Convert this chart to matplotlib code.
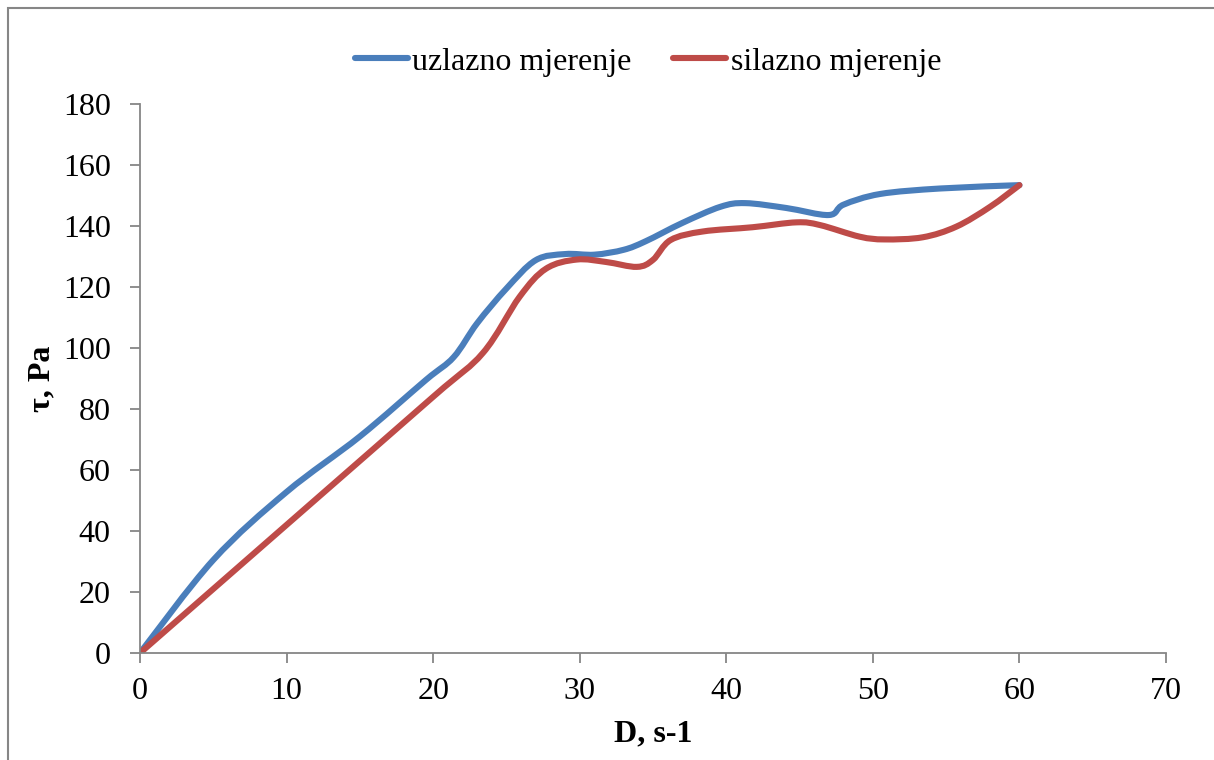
import numpy as np
import matplotlib.pyplot as plt
from matplotlib.path import Path
from matplotlib.patches import PathPatch, Rectangle
from matplotlib.lines import Line2D

plt.rcParams['font.family'] = ['Liberation Serif', 'DejaVu Serif']

# values
x_up = [0, 5, 10, 15, 19.5, 21.4, 23.0, 25.0, 27.0, 29.0, 31.0, 33.0, 34.5,
        37.0, 39.6, 41.3, 44.1, 47.0, 48.0, 50.5, 54.6, 60.0]
y_up = [0, 30.5, 52.8, 71.0, 89.5, 97.0, 108.1, 119.5, 128.8, 130.8, 130.6, 132.2, 135.0,
        141.0, 146.3, 147.5, 145.9, 143.6, 147.0, 150.5, 152.3, 153.4]

x_down = [0, 10, 20, 23.4, 25.9, 27.7, 29.8, 31.8, 33.9, 35.0, 36.2, 38.4, 41.8,
          44.8, 46.4, 49.1, 50.8, 53.4, 55.7, 58.0, 60.0]
y_down = [0, 42, 84, 98.4, 116.8, 126.0, 129.0, 128.2, 126.6, 128.9, 135.4, 138.2, 139.6,
          141.2, 140.3, 136.5, 135.6, 136.3, 139.8, 146.3, 153.4]

labels = ['uzlazno mjerenje', 'silazno mjerenje']
colors = ['#4A7EBB', '#BE4B48']


def smooth_path(xs, ys):
    # Excel-like smoothed line: cubic Bezier segments through the points
    p = np.column_stack([xs, ys]).astype(float)
    n = len(p)
    verts = [p[0]]
    codes = [Path.MOVETO]
    for i in range(n - 1):
        p0 = p[i - 1] if i > 0 else p[i]
        p1 = p[i]
        p2 = p[i + 1]
        p3 = p[i + 2] if i + 2 < n else p[i + 1]
        c1 = p1 + (p2 - p0) / 6.0
        c2 = p2 - (p3 - p1) / 6.0
        verts += [c1, c2, p2]
        codes += [Path.CURVE4] * 3
    return Path(verts, codes)


fig = plt.figure(figsize=(12.14, 7.6), dpi=100)
ax = fig.add_axes([140 / 1214, 1 - 653 / 760, 1026 / 1214, 549 / 760])

for xs, ys, c in [(x_up, y_up, colors[0]), (x_down, y_down, colors[1])]:
    patch = PathPatch(smooth_path(xs, ys), facecolor='none', edgecolor=c,
                      lw=4.4, capstyle='round', joinstyle='round')
    ax.add_patch(patch)

ax.set_xlim(0, 70)
ax.set_ylim(0, 180)
ax.set_xticks(range(0, 71, 10))
ax.set_yticks(range(0, 181, 20))

axis_gray = '#868686'
for s in ['top', 'right']:
    ax.spines[s].set_visible(False)
for s in ['left', 'bottom']:
    ax.spines[s].set_color(axis_gray)
    ax.spines[s].set_linewidth(1.3)
ax.tick_params(axis='both', direction='out', length=7, width=1.3, color=axis_gray,
               labelsize=23)
ax.tick_params(axis='y', pad=14)
ax.tick_params(axis='x', pad=10)

ax.set_xlabel('D, s-1', fontsize=23, fontweight='bold', labelpad=10)
ax.set_ylabel('τ, Pa', fontsize=23, fontweight='bold', labelpad=5)

handles = [Line2D([0], [0], color=c, lw=4.4, solid_capstyle='round') for c in colors]
fig.legend(handles, labels, loc='center', bbox_to_anchor=(648 / 1214, 1 - 62 / 760),
           ncol=2, frameon=False, fontsize=23, handlelength=1.65, handletextpad=0.15,
           columnspacing=1.3)

fig.add_artist(Rectangle((7.5 / 1214, -0.01), 1.02, 1 - 7.5 / 760 + 0.01,
                         transform=fig.transFigure, fill=False, edgecolor=axis_gray,
                         lw=1.5, clip_on=False))

fig.savefig('out.png', dpi=100)
